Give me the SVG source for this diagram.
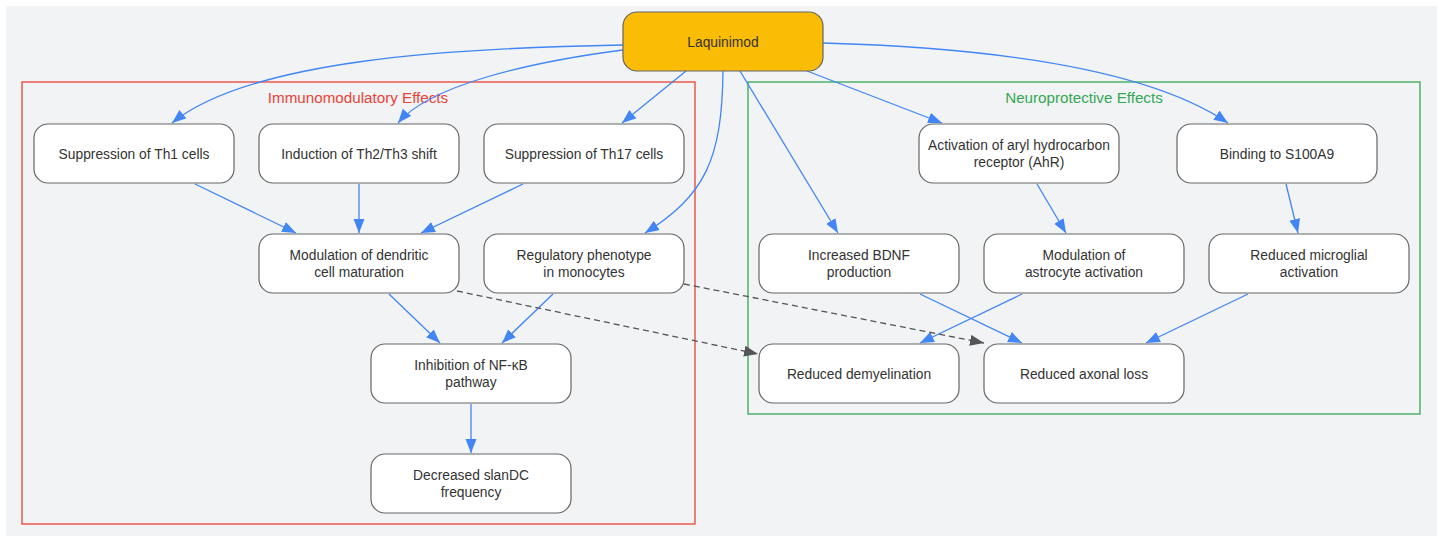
<svg xmlns="http://www.w3.org/2000/svg" width="1443" height="536" viewBox="0 0 1443 536">
<defs>
<marker id="ab" markerUnits="userSpaceOnUse" markerWidth="16" markerHeight="12" refX="14" refY="5.5" orient="auto"><path d="M0,0 L14,5.5 L0,11 z" fill="#4285f4"/></marker>
<marker id="ag" markerUnits="userSpaceOnUse" markerWidth="16" markerHeight="12" refX="14" refY="5.5" orient="auto"><path d="M0,0 L14,5.5 L0,11 z" fill="#555555"/></marker>
</defs>
<style>
.n rect{fill:#ffffff;stroke:#666666;stroke-width:1.2}
.n text,.root text{font-family:"Liberation Sans",Arial,sans-serif;font-size:13.8px;fill:#333333;text-anchor:middle}
.e{fill:none;stroke:#4285f4;stroke-width:1.3;marker-end:url(#ab)}
.d{fill:none;stroke:#555555;stroke-width:1.3;stroke-dasharray:6,4;marker-end:url(#ag)}
.cl{font-family:"Liberation Sans",Arial,sans-serif;font-size:15.2px;text-anchor:middle}
</style>
<rect x="6" y="6" width="1431" height="530" fill="#f1f3f5"/>
<g id="cluster-immuno">
<rect x="22" y="82" width="673" height="442" fill="none" stroke="#ea4335" stroke-width="1.3"/>
<text class="cl" x="358" y="103" fill="#ea4335">Immunomodulatory Effects</text>
</g>
<g id="cluster-neuro">
<rect x="748" y="82" width="672" height="332" fill="none" stroke="#34a853" stroke-width="1.3"/>
<text class="cl" x="1084" y="103" fill="#34a853">Neuroprotective Effects</text>
</g>
<g id="connectors">
<path class="e" d="M623,45 C450,48 250,60 172,123"/>
<path class="e" d="M623,50 C530,62 430,85 398,123"/>
<path class="e" d="M686,71 L622,123"/>
<path class="e" d="M723,71 C722,160 705,195 645,233"/>
<path class="e" d="M740,71 L838,233"/>
<path class="e" d="M807,71 L942,123"/>
<path class="e" d="M823,43 C1000,48 1150,70 1228,123"/>
<path class="e" d="M195,184 L296,233"/>
<path class="e" d="M359,184 L359,233"/>
<path class="e" d="M523,184 L421,233"/>
<path class="e" d="M1037,184 L1066,233"/>
<path class="e" d="M1286,184 L1298,233"/>
<path class="e" d="M389,294 L440,343"/>
<path class="e" d="M553,294 L502,343"/>
<path class="e" d="M471,404 L471,453"/>
<path class="e" d="M920,294 L1022,343"/>
<path class="e" d="M1022,294 L920,343"/>
<path class="e" d="M1248,294 L1146,343"/>
<path class="d" d="M457,291 L758,354"/>
<path class="d" d="M684,284 L984,343"/>
</g>
<g id="laquinimod" class="root">
<rect x="623" y="12" width="200" height="59" rx="14" fill="#fbbc05" stroke="#666666" stroke-width="1.2"/>
<text x="723" y="47">Laquinimod</text>
</g>
<g id="th1" class="n"><rect x="34" y="124" width="200" height="59" rx="14"/><text x="134" y="159">Suppression of Th1 cells</text></g>
<g id="th2" class="n"><rect x="259" y="124" width="200" height="59" rx="14"/><text x="359" y="159">Induction of Th2/Th3 shift</text></g>
<g id="th17" class="n"><rect x="484" y="124" width="200" height="59" rx="14"/><text x="584" y="159">Suppression of Th17 cells</text></g>
<g id="ahr" class="n"><rect x="919" y="124" width="200" height="59" rx="14"/><text x="1019" y="150">Activation of aryl hydrocarbon</text><text x="1019" y="167">receptor (AhR)</text></g>
<g id="s100a9" class="n"><rect x="1177" y="124" width="200" height="59" rx="14"/><text x="1277" y="159">Binding to S100A9</text></g>
<g id="dendritic" class="n"><rect x="259" y="234" width="200" height="59" rx="14"/><text x="359" y="260">Modulation of dendritic</text><text x="359" y="277">cell maturation</text></g>
<g id="monocytes" class="n"><rect x="484" y="234" width="200" height="59" rx="14"/><text x="584" y="260">Regulatory phenotype</text><text x="584" y="277">in monocytes</text></g>
<g id="bdnf" class="n"><rect x="759" y="234" width="200" height="59" rx="14"/><text x="859" y="260">Increased BDNF</text><text x="859" y="277">production</text></g>
<g id="astrocyte" class="n"><rect x="984" y="234" width="200" height="59" rx="14"/><text x="1084" y="260">Modulation of</text><text x="1084" y="277">astrocyte activation</text></g>
<g id="microglia" class="n"><rect x="1209" y="234" width="200" height="59" rx="14"/><text x="1309" y="260">Reduced microglial</text><text x="1309" y="277">activation</text></g>
<g id="nfkb" class="n"><rect x="371" y="344" width="200" height="59" rx="14"/><text x="471" y="370">Inhibition of NF-κB</text><text x="471" y="387">pathway</text></g>
<g id="demyelination" class="n"><rect x="759" y="344" width="200" height="59" rx="14"/><text x="859" y="379">Reduced demyelination</text></g>
<g id="axonal" class="n"><rect x="984" y="344" width="200" height="59" rx="14"/><text x="1084" y="379">Reduced axonal loss</text></g>
<g id="slandc" class="n"><rect x="371" y="454" width="200" height="59" rx="14"/><text x="471" y="480">Decreased slanDC</text><text x="471" y="497">frequency</text></g>
</svg>
